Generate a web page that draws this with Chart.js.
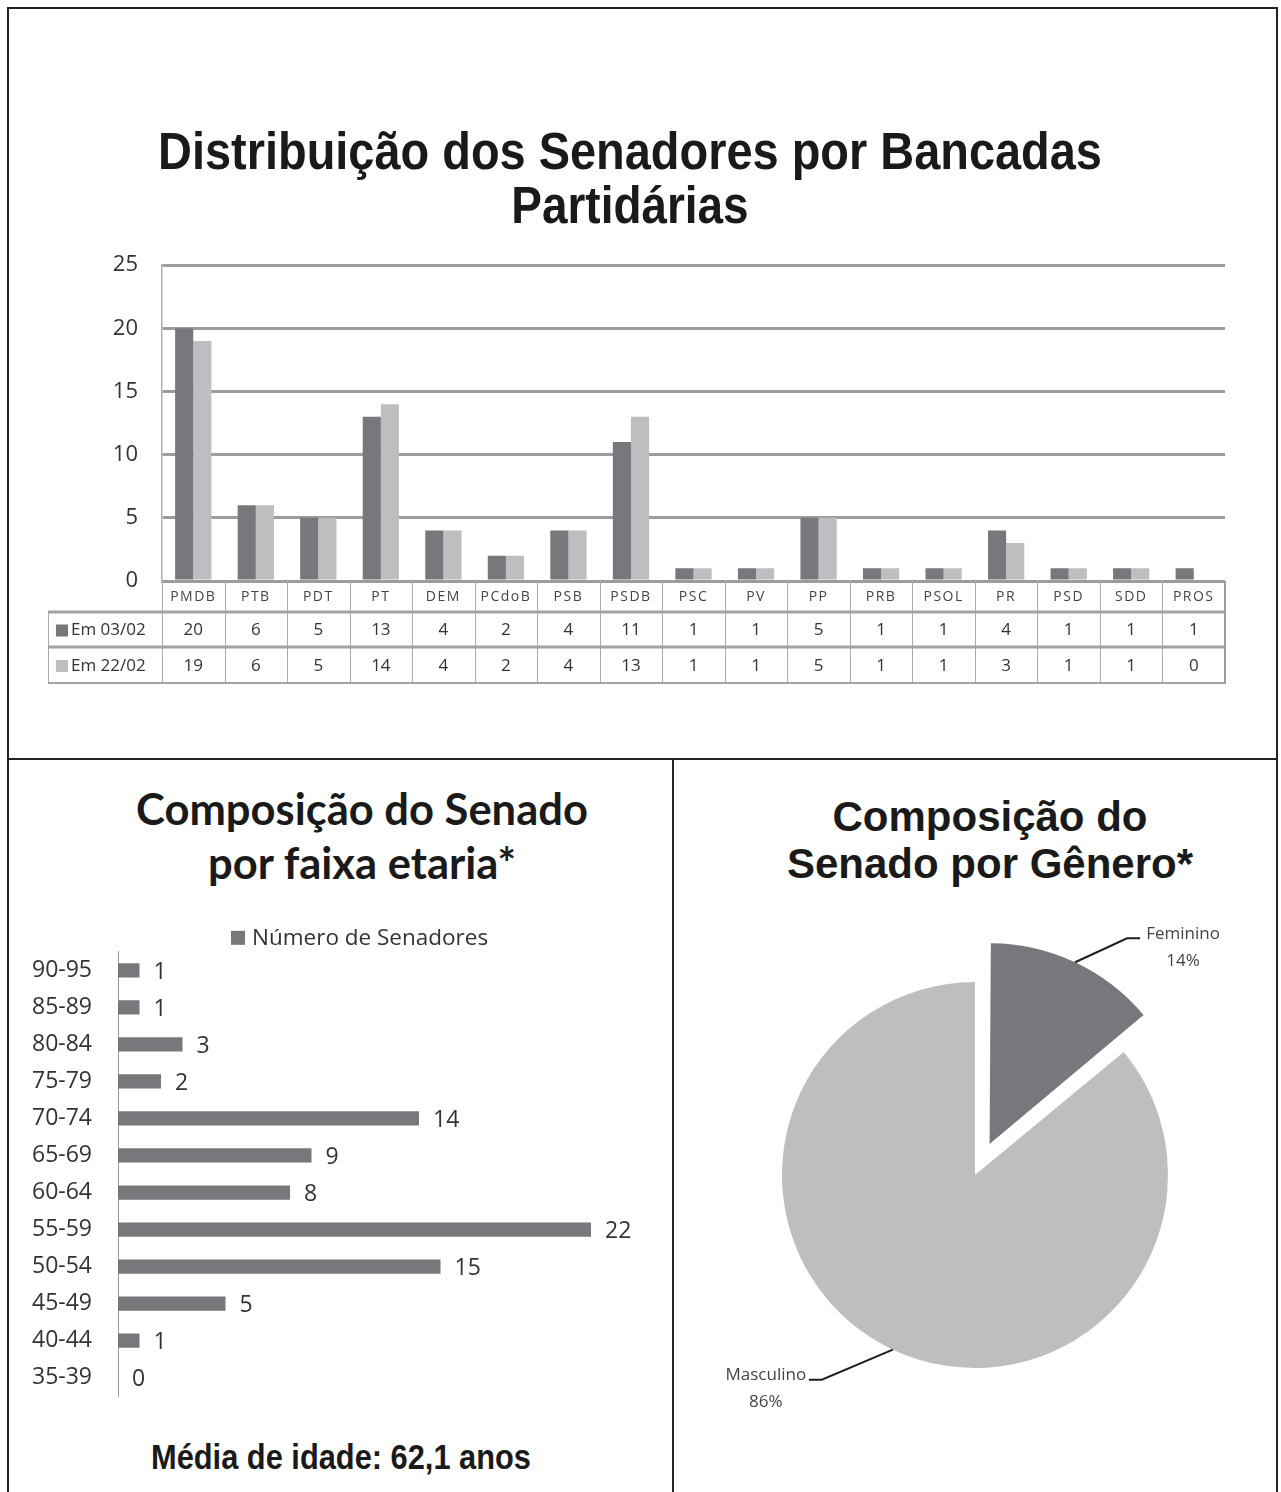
<!DOCTYPE html>
<html>
<head>
<meta charset="utf-8">
<script src="https://cdn.jsdelivr.net/npm/chart.js@4.4.0/dist/chart.umd.min.js"></script>
<style>
	body { margin: 0; width: 1281px; height: 1492px; position: relative; overflow: hidden; background: #fff; }
	.frame { position: absolute; left: 7px; top: 7px; width: 1271px; height: 1520px; border: 2px solid #222; box-sizing: border-box; }
	.hline { position: absolute; left: 7px; top: 758px; width: 1271px; height: 2px; background: #222; }
	.vline { position: absolute; left: 672px; top: 758px; width: 2px; height: 740px; background: #222; }
	.title { position: absolute; text-align: center; font-weight: bold; color: #1a1a1a; white-space: nowrap; }
	.arial { font-family: "Liberation Sans", Arial, sans-serif; }
	.t-main1 { left: 0; width: 1260px; top: 125px; font-size: 51px; line-height: 54px; transform: scaleX(0.92); }
	.t-main2 { left: 0; width: 1260px; top: 179px; font-size: 51px; line-height: 54px; transform: scaleX(0.9); }
	.t-age { left: 30px; width: 664px; top: 781px; font-family: Lato, sans-serif; font-size: 43.5px; line-height: 54px; }
	.t-gen { left: 690px; width: 600px; top: 793px; font-size: 42px; line-height: 47px; }
	.t-avg { left: 40px; width: 602px; top: 1437px; font-size: 35px; line-height: 40px; transform: scaleX(0.88); }
	canvas { position: absolute; }
</style>
</head>
<body>
<div class="frame"></div>
<div class="hline"></div>
<div class="vline"></div>

<div class="title arial t-main1">Distribuição dos Senadores por Bancadas</div>
<div class="title arial t-main2">Partidárias</div>
<div class="title t-age">Composição do Senado<br>por faixa etaria*</div>
<div class="title arial t-gen">Composição do<br>Senado por Gênero*</div>
<div class="title arial t-avg">Média de idade: 62,1 anos</div>

<canvas id="bancadas" width="1281" height="460" style="left:0;top:228px"></canvas>
<canvas id="faixa" width="672" height="524" style="left:0;top:912px"></canvas>
<canvas id="genero" width="550" height="550" style="left:700px;top:900px"></canvas>

<script>
// --- dados ---
const partidos = ['PMDB', 'PTB', 'PDT', 'PT', 'DEM', 'PCdoB', 'PSB', 'PSDB', 'PSC', 'PV', 'PP', 'PRB', 'PSOL', 'PR', 'PSD', 'SDD', 'PROS'];
const em0302 = [20, 6, 5, 13, 4, 2, 4, 11, 1, 1, 5, 1, 1, 4, 1, 1, 1];
const em2202 = [19, 6, 5, 14, 4, 2, 4, 13, 1, 1, 5, 1, 1, 3, 1, 1, 0];
const serieLabels = ['Em 03/02', 'Em 22/02'];
const yTicks = [0, 5, 10, 15, 20, 25];

const faixas = ['90-95', '85-89', '80-84', '75-79', '70-74', '65-69', '60-64', '55-59', '50-54', '45-49', '40-44', '35-39'];
const senadores = [1, 1, 3, 2, 14, 9, 8, 22, 15, 5, 1, 0];

const generos = ['Feminino', 'Masculino'];
const generoPct = [14, 86];

const DARK = '#77787b';
const LIGHT = '#bdbec0';
const TXT = '#333';

Chart.defaults.font.family = "'Open Sans', sans-serif";
Chart.defaults.animation = false;

// tabela de dados embaixo do grafico de barras
const dataTable = {
	id: 'dataTable',
	afterDraw(chart) {
		const {ctx, chartArea: a, scales: {x}} = chart;
		const n = partidos.length;
		const w = (a.right - a.left) / n;
		const rows = [a.bottom, a.bottom + 31, a.bottom + 66, a.bottom + 102];
		const legendLeft = 48;
		const colors = chart.data.datasets.map(d => d.backgroundColor);

		ctx.save();
		// linhas verticais
		ctx.strokeStyle = '#ababab';
		ctx.lineWidth = 1;
		for (let i = 0; i <= n; i++) {
			const xx = Math.round(a.left + i * w) + 0.5;
			ctx.beginPath();
			ctx.moveTo(xx, rows[0]);
			ctx.lineTo(xx, rows[3]);
			ctx.stroke();
		}
		ctx.beginPath();
		ctx.moveTo(legendLeft + 0.5, rows[1]);
		ctx.lineTo(legendLeft + 0.5, rows[3]);
		ctx.stroke();

		ctx.strokeStyle = '#9c9c9c';
		ctx.lineWidth = 2;
		ctx.beginPath();
		ctx.moveTo(a.right, rows[0]);
		ctx.lineTo(a.right, rows[3]);
		ctx.stroke();

		// linhas horizontais
		[[rows[1], 3], [rows[2], 3], [rows[3], 2]].forEach(([yy, lw]) => {
			ctx.lineWidth = lw;
			ctx.strokeStyle = '#a2a2a2';
			ctx.beginPath();
			ctx.moveTo(legendLeft, yy);
			ctx.lineTo(a.right + 1, yy);
			ctx.stroke();
		});

		// cabecalho
		ctx.fillStyle = '#444';
		ctx.textAlign = 'center';
		ctx.textBaseline = 'middle';
		ctx.font = "14px 'Open Sans'";
		ctx.letterSpacing = '1.5px';
		partidos.forEach((p, i) => {
			ctx.fillText(p, x.getPixelForValue(i), (rows[0] + rows[1]) / 2 + 1);
		});
		ctx.letterSpacing = '0px';

		// valores
		ctx.fillStyle = TXT;
		ctx.font = "17px 'Open Sans'";
		chart.data.datasets.forEach((ds, r) => {
			const yy = (rows[r + 1] + rows[r + 2]) / 2 + 1;
			ds.data.forEach((v, i) => {
				ctx.fillText(String(v), x.getPixelForValue(i), yy);
			});
			// legenda
			ctx.fillStyle = colors[r];
			ctx.fillRect(legendLeft + 8, yy - 6, 12, 12);
			ctx.fillStyle = TXT;
			ctx.textAlign = 'left';
			ctx.fillText(ds.label, legendLeft + 23, yy);
			ctx.textAlign = 'center';
		});
		ctx.restore();
	}
};

new Chart(document.getElementById('bancadas'), {
	type: 'bar',
	data: {
		labels: partidos,
		datasets: [
			{label: serieLabels[0], data: em0302, backgroundColor: DARK},
			{label: serieLabels[1], data: em2202, backgroundColor: LIGHT}
		]
	},
	options: {
		responsive: false,
		maintainAspectRatio: false,
		barPercentage: 1,
		categoryPercentage: 0.58,
		layout: {padding: {left: 0, right: 56, top: 0, bottom: 107}},
		plugins: {legend: {display: false}, tooltip: {enabled: false}},
		scales: {
			x: {display: false},
			y: {
				min: 0,
				max: 25,
				afterFit: (s) => { s.width = 162; },
				afterBuildTicks: (s) => { s.ticks = yTicks.map(v => ({value: v})); },
				ticks: {color: TXT, font: {size: 22}, padding: 24},
				grid: {color: '#9c9c9c', lineWidth: 3, drawTicks: false},
				border: {display: true, color: '#b0b0b0', width: 1.5}
			}
		}
	},
	plugins: [dataTable]
});

// rotulos e legenda do grafico de faixa etaria
const barLabels = {
	id: 'barLabels',
	afterDatasetsDraw(chart) {
		const {ctx, chartArea: a} = chart;
		const meta = chart.getDatasetMeta(0);
		const ds = chart.data.datasets[0];
		ctx.save();
		ctx.fillStyle = TXT;
		ctx.font = "23px 'Open Sans'";
		ctx.textBaseline = 'middle';
		ctx.textAlign = 'left';
		meta.data.forEach((bar, i) => {
			ctx.fillText(String(ds.data[i]), bar.x + 14, bar.y + 2);
		});
		// legenda
		ctx.font = "22.5px 'Open Sans'";
		ctx.fillStyle = ds.backgroundColor;
		ctx.fillRect(231, a.top - 21, 14, 14);
		ctx.fillStyle = TXT;
		ctx.fillText(ds.label, 252, a.top - 13);
		ctx.restore();
	}
};

new Chart(document.getElementById('faixa'), {
	type: 'bar',
	data: {
		labels: faixas,
		datasets: [{label: 'Número de Senadores', data: senadores, backgroundColor: DARK}]
	},
	options: {
		indexAxis: 'y',
		responsive: false,
		maintainAspectRatio: false,
		barPercentage: 0.48,
		categoryPercentage: 0.8,
		layout: {padding: {left: 0, right: 16.5, top: 0, bottom: 0}},
		plugins: {legend: {display: false}, tooltip: {enabled: false}},
		scales: {
			x: {display: false, min: 0, max: 25},
			y: {
				afterFit: (s) => { s.width = 118; },
				ticks: {color: TXT, font: {size: 23}, padding: 26},
				grid: {display: false, drawTicks: false},
				border: {display: true, color: '#9a9a9a', width: 1}
			}
		}
	},
	plugins: [barLabels]
});

// linhas de chamada do grafico de pizza
const leaderElbow = [[52, -24], [-71, 30]];
const leaderTail = [13, -13];

// deslocamento real que o ArcElement aplica para um dado offset
function arcShift(offset, circumference) {
	const fix = 1 - Math.sin(Math.min(Math.PI, circumference || 0));
	return offset / 4 * (1 + fix);
}

const pieLeaders = {
	id: 'pieLeaders',
	afterDraw(chart) {
		const {ctx} = chart;
		const meta = chart.getDatasetMeta(0);
		const ds = chart.data.datasets[0];
		ctx.save();
		meta.data.forEach((arc, i) => {
			const mid = (arc.startAngle + arc.endAngle) / 2;
			const off = arcShift(ds.offset[i], arc.circumference);
			const ex = arc.x + Math.cos(mid) * (off + arc.outerRadius);
			const ey = arc.y + Math.sin(mid) * (off + arc.outerRadius);
			const bx = ex + leaderElbow[i][0];
			const by = ey + leaderElbow[i][1];
			const tx = bx + leaderTail[i];
			ctx.strokeStyle = '#1e1e1e';
			ctx.lineWidth = 2;
			ctx.beginPath();
			ctx.moveTo(ex, ey);
			ctx.lineTo(bx, by);
			ctx.lineTo(tx, by);
			ctx.stroke();

			const cx = tx + Math.sign(leaderTail[i]) * 43;
			ctx.fillStyle = '#444';
			ctx.font = "17px 'Open Sans'";
			ctx.textAlign = 'center';
			ctx.textBaseline = 'middle';
			ctx.fillText(chart.data.labels[i], cx, by - 4);
			ctx.fillText(ds.data[i] + '%', cx, by + 23);
		});
		ctx.restore();
	}
};

new Chart(document.getElementById('genero'), {
	type: 'pie',
	data: {
		labels: generos,
		datasets: [{
			data: generoPct,
			backgroundColor: [DARK, LIGHT],
			borderWidth: 0,
			offset: [137, 0]
		}]
	},
	options: {
		responsive: false,
		maintainAspectRatio: false,
		radius: 193,
		layout: {padding: 0},
		plugins: {legend: {display: false}, tooltip: {enabled: false}}
	},
	plugins: [pieLeaders]
});
</script>
</body>
</html>
